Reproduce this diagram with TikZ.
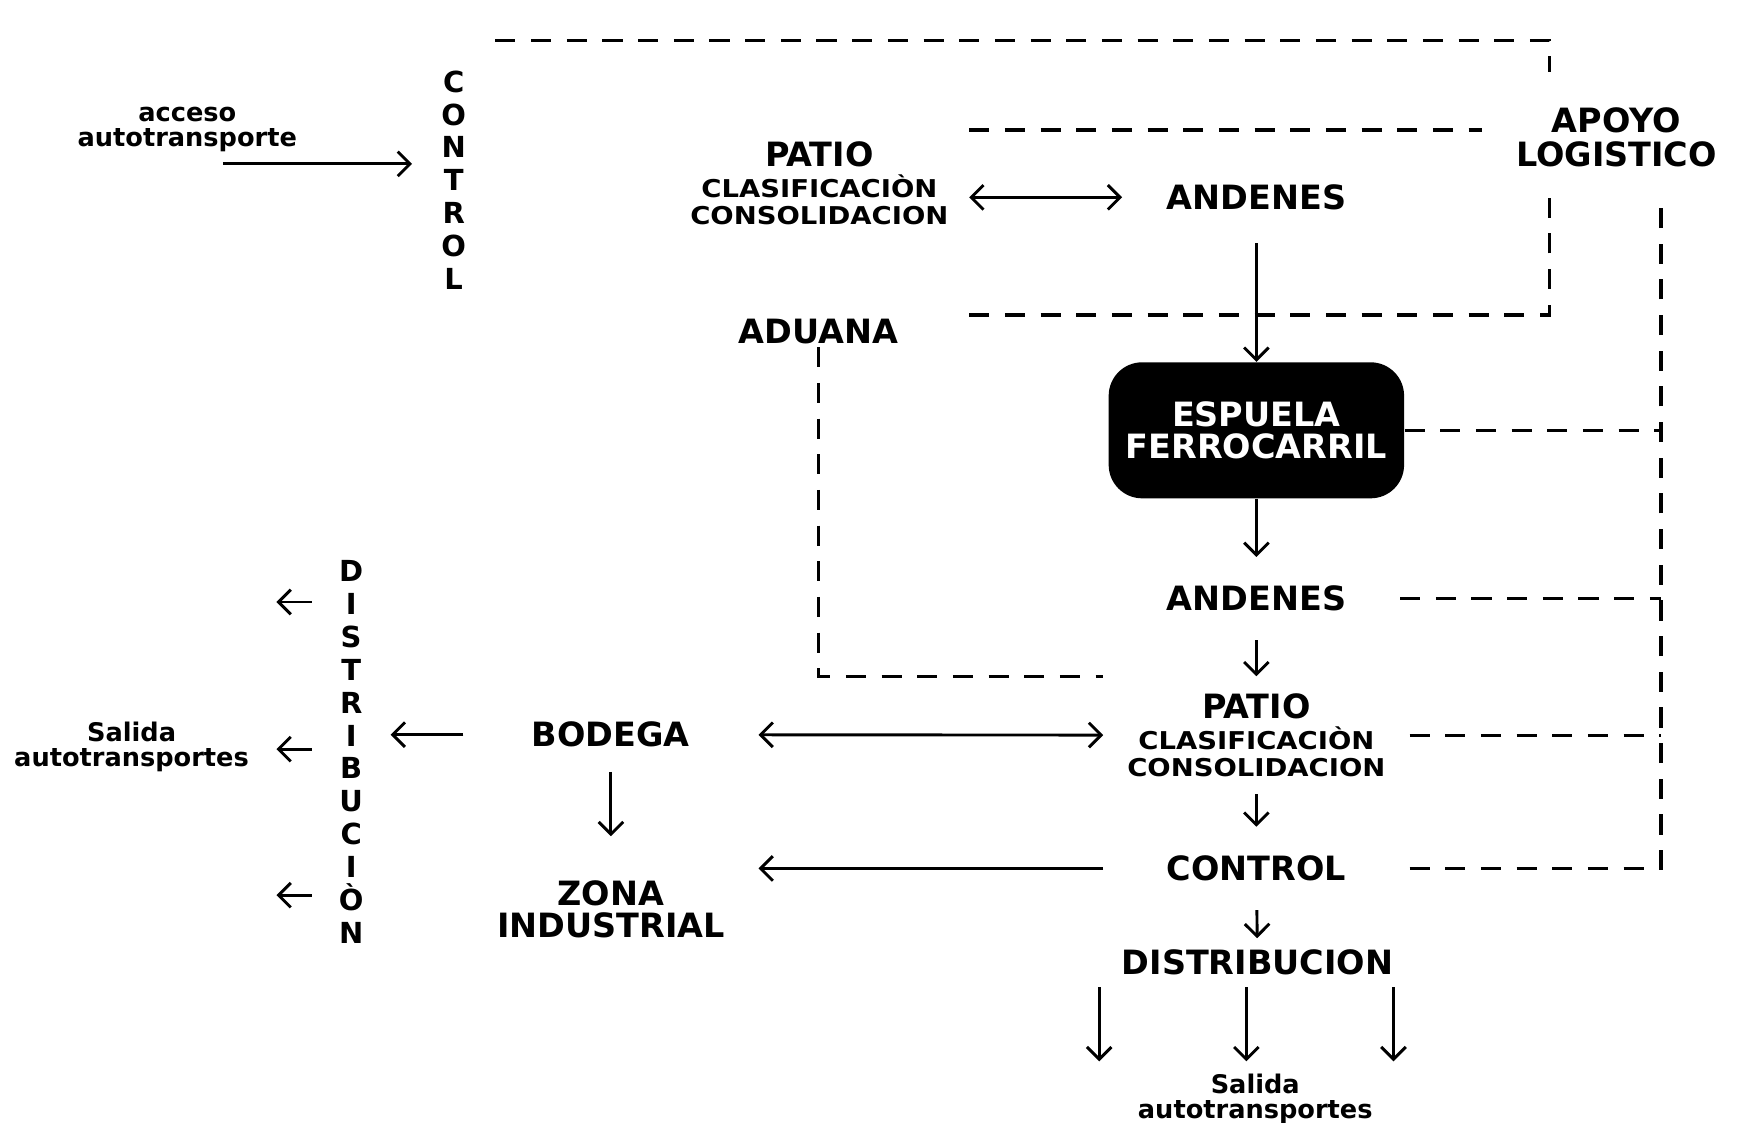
\documentclass[tikz,border=0pt]{standalone}
\usepackage{fontspec}
\setmainfont{DejaVu Sans}
\newfontfamily\widefont{DejaVu Sans}[FakeStretch=1.12]
\usetikzlibrary{arrows.meta}

\begin{document}
\begin{tikzpicture}[
  x=0.5pt, y=-0.5pt,
  big/.style={font=\bfseries\fontsize{15}{14.5}\selectfont, align=center, inner sep=0pt},
  small/.style={font=\bfseries\fontsize{11.5}{11.2}\selectfont, align=center, inner sep=0pt},
  tall/.style={font=\bfseries\fontsize{13}{14.75}\selectfont, align=center, inner sep=0pt},
  patio/.style={font=\bfseries\widefont\fontsize{11}{12}\selectfont, align=center, inner sep=0pt},
  rail/.style={big, fill=black, text=white, rounded corners=15pt},
  arr/.style={line width=1.3pt, -{Straight Barb[length=5.5pt,width=11pt,line width=1.3pt]}},
  darr/.style={line width=1.3pt, {Straight Barb[length=5.5pt,width=11pt,line width=1.3pt]}-{Straight Barb[length=5.5pt,width=11pt,line width=1.3pt]}},
  logline/.style={line width=1.5pt, dash pattern=on 9pt off 7pt}
]
  \useasboundingbox (0,0) rectangle (1568,1007);

  % entrada
  \node[small] (acc) at (168,116) {acceso\\autotransporte};
  \coordinate (in) at (200,147);
  \node[tall, minimum width=37pt, minimum height=125pt] (ctlA) at (407,161.5) {C\\O\\N\\T\\R\\O\\L};

  % bloque superior
  \node[patio, minimum width=134pt, minimum height=47pt] (patA) at (735,164)
    {{\normalfont\bfseries\fontsize{15}{12}\selectfont PATIO}\\[2pt]CLASIFICACIÒN\\CONSOLIDACION};
  \node[big, minimum width=120pt, minimum height=41pt] (andA) at (1127,177) {ANDENES};
  \node[big, minimum width=120pt, minimum height=58pt] (apo) at (1450,123) {APOYO\\[0.5pt]LOGISTICO};
  \node[big, minimum width=135pt, minimum height=14pt] (adu) at (734,297) {ADUANA};
  \node[rail, minimum width=132.5pt, minimum height=61pt] (esp) at (1127,386) {ESPUELA\\FERROCARRIL};

  % columna derecha
  \node[big, minimum width=128.5pt, minimum height=37pt] (andB) at (1127,537) {ANDENES};
  \node[patio, minimum width=137pt, minimum height=52.5pt] (patB) at (1127,659.5)
    {{\normalfont\bfseries\fontsize{15}{12}\selectfont PATIO}\\[2pt]CLASIFICACIÒN\\CONSOLIDACION};
  \node[big, minimum width=137pt, minimum height=37pt] (ctlB) at (1127,779) {CONTROL};
  \node[big, minimum height=21.5pt] (dist) at (1128,863.5) {DISTRIBUCION};
  \coordinate (s1) at (986,952);
  \coordinate (s2) at (1118,952);
  \coordinate (s3) at (1250,952);
  \node[small] (sal) at (1126,986) {Salida\\autotransportes};

  % lado izquierdo
  \node[big, minimum width=132pt, minimum height=33pt] (bod) at (548,659) {BODEGA};
  \node[big, minimum width=132pt, minimum height=65pt] (zona) at (548,815.5) {ZONA\\INDUSTRIAL};
  \node[tall, minimum width=35pt, minimum height=170pt] (dst) at (315,674.5)
    {D\\I\\S\\T\\R\\I\\B\\U\\C\\I\\Ò\\N};
  \coordinate (o1) at (248,540);
  \coordinate (o2) at (248,672);
  \coordinate (o3) at (248,803);
  \node[small] (sall) at (118,670) {Salida\\autotransportes};

  % apoyo logistico
  \coordinate (k1) at (1390,65);
  \coordinate (k2) at (1390,175);
  \coordinate (k4) at (1490,175);

  \draw[arr] (in) -- (ctlA.west |- in);
  \draw[darr] (patA.east |- andA.west) -- (andA.west);
  \draw[arr] (andA) -- (esp);
  \draw[arr] (esp) -- (andB);
  \draw[arr] (andB) -- (patB);
  \draw[arr] (patB) -- (ctlB);
  \draw[arr] (ctlB) -- (dist);
  \foreach \s in {s1,s2,s3}
    \draw[arr] (\s |- dist.south) -- (\s);
  \draw[darr] (bod) -- (patB);
  \draw[arr] (bod) -- (zona);
  \draw[arr] (bod.west) -- (dst.east |- bod.west);
  \draw[arr] (ctlB.west) -- (zona.east |- ctlB.west);
  \foreach \o in {o1,o2,o3}
    \draw[arr] (dst.west |- \o) -- (\o);

  \draw[logline] (ctlA.north east) -| (k1);
  \draw[logline] (patA.north east) -- (patA.north east -| apo.west);
  \draw[logline] (adu.north east) -| (k2);
  \draw[logline] (adu.south) |- (patB.north west);
  \draw[logline] (ctlB.east) -| (k4);
  \foreach \n in {esp,andB,patB}
    \draw[logline] (\n.east) -- (\n.east -| k4);
\end{tikzpicture}
\end{document}
